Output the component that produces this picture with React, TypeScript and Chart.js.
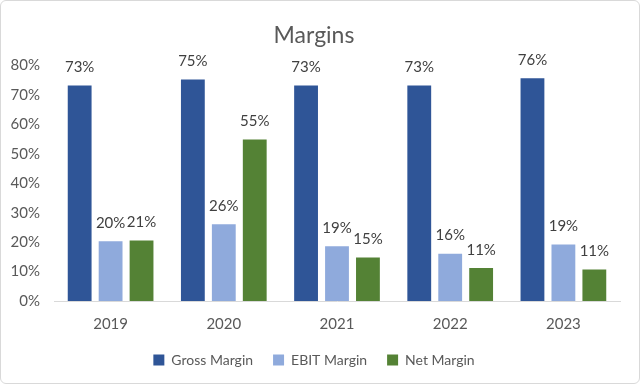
import React, { useEffect, useRef } from "react";
import { Chart, registerables } from "chart.js";

Chart.register(...registerables);

const categories = ["2019", "2020", "2021", "2022", "2023"];
const grossMargin = [73.2, 75.3, 73.2, 73.2, 75.7];
const ebitMargin = [20.3, 26.1, 18.6, 16.1, 19.2];
const netMargin = [20.6, 54.9, 14.8, 11.2, 10.7];
const yTicks = [0, 10, 20, 30, 40, 50, 60, 70, 80];

const FONT = "Lato, 'Open Sans', sans-serif";

const dataLabels = {
  id: "dataLabels",
  afterDatasetsDraw(chart: any) {
    const ctx = chart.ctx;
    ctx.save();
    ctx.font = `15px ${FONT}`;
    ctx.fillStyle = "#404040";
    ctx.textAlign = "center";
    ctx.textBaseline = "middle";
    chart.data.datasets.forEach((ds: any, i: number) => {
      const meta = chart.getDatasetMeta(i);
      meta.data.forEach((bar: any, j: number) => {
        ctx.fillText(Math.round(ds.data[j]) + "%", bar.x, bar.y - 18);
      });
    });
    ctx.restore();
  },
};

export default function App() {
  const ref = useRef<HTMLCanvasElement>(null);
  useEffect(() => {
    document.body.style.margin = "0";
    const chart = new Chart(ref.current!, {
      type: "bar",
      data: {
        labels: categories,
        datasets: [
          { label: "Gross Margin", data: grossMargin, backgroundColor: "#2F5597" },
          { label: "EBIT Margin", data: ebitMargin, backgroundColor: "#8FAADC" },
          { label: "Net Margin", data: netMargin, backgroundColor: "#548235" },
        ],
      },
      options: {
        animation: false,
        responsive: false,
        maintainAspectRatio: false,
        datasets: { bar: { categoryPercentage: 0.82, barPercentage: 0.77 } } as any,
        layout: { padding: { left: 7, right: 19, top: 10, bottom: 6 } },
        scales: {
          x: {
            grid: { display: false, drawTicks: false },
            border: { display: true, color: "#d9d9d9", width: 1 },
            ticks: { color: "#595959", font: { family: FONT, size: 15 }, padding: 14 },
            afterFit: (s: any) => { s.height = 32; },
          },
          y: {
            min: 0,
            max: 80,
            afterBuildTicks: (s: any) => { s.ticks = yTicks.map((v) => ({ value: v })); },
            grid: { display: false, drawTicks: false },
            border: { display: false },
            ticks: {
              color: "#595959",
              font: { family: FONT, size: 15 },
              padding: 14,
              callback: (v: any) => v + "%",
            },
            afterFit: (s: any) => { s.width = 46; },
          },
        },
        plugins: {
          title: {
            display: true,
            text: "Margins",
            color: "#595959",
            font: { family: FONT, size: 23, weight: "normal" },
            padding: { top: 11, bottom: 16 },
          },
          legend: {
            position: "bottom",
            labels: {
              color: "#595959",
              font: { family: FONT, size: 14 },
              boxWidth: 11,
              boxHeight: 11,
              padding: 20,
            },
          },
          tooltip: { enabled: false },
        },
      },
      plugins: [dataLabels],
    });
    return () => chart.destroy();
  }, []);
  return (
    <div
      style={{
        width: 640,
        height: 384,
        boxSizing: "border-box",
        border: "1px solid #d9d9d9",
        borderRadius: 6,
        background: "#fff",
        overflow: "hidden",
      }}
    >
      <canvas ref={ref} width={638} height={382} style={{ display: "block" }} />
    </div>
  );
}
